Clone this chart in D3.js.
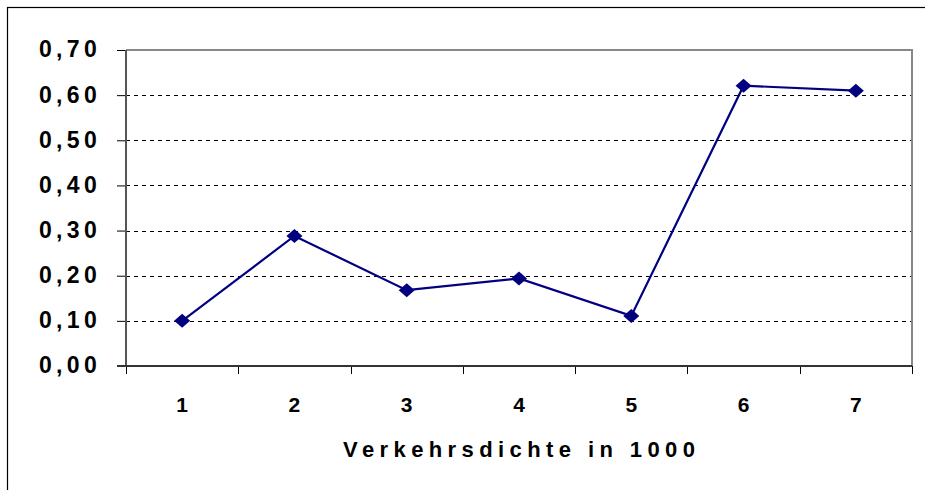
<!DOCTYPE html>
<html>
<head>
<meta charset="utf-8">
<script src="https://cdn.jsdelivr.net/npm/d3@7"></script>
<style>
  body { margin: 0; background: #fff; }
  text { font-family: "Liberation Sans", Arial, sans-serif; font-weight: bold; fill: #000; }
</style>
</head>
<body>
<div id="chart"></div>
<script>
var categories = ["1", "2", "3", "4", "5", "6", "7"];
var values = [0.10, 0.288, 0.168, 0.194, 0.111, 0.621, 0.610];
var yTicks = [0, 0.1, 0.2, 0.3, 0.4, 0.5, 0.6, 0.7];
var xTitle = "Verkehrsdichte in 1000";

var W = 925, H = 490;
var margin = {top: 50, right: 13, bottom: 124, left: 126};
var width = W - margin.left - margin.right;
var height = H - margin.top - margin.bottom;

var svg = d3.select("#chart").append("svg")
    .attr("width", W)
    .attr("height", H);

// outer chart frame (runs off the right and bottom edges)
svg.append("rect")
    .attr("x", 7.5).attr("y", 7.5)
    .attr("width", 930).attr("height", 500)
    .attr("fill", "none")
    .attr("stroke", "#000")
    .attr("stroke-width", 1.2);

var g = svg.append("g")
    .attr("transform", "translate(" + margin.left + "," + margin.top + ")");

var x = d3.scaleBand().domain(categories).range([0, width]);
var y = d3.scaleLinear().domain([0, 0.7]).range([height, 0]);

// dashed gridlines
g.selectAll(".grid")
    .data(yTicks.filter(function(d){ return d > 0 && d < 0.7; }))
    .enter().append("line")
    .attr("class", "grid")
    .attr("x1", 0).attr("x2", width)
    .attr("y1", function(d){ return Math.round(y(d)) + 0.5; })
    .attr("y2", function(d){ return Math.round(y(d)) + 0.5; })
    .attr("stroke", "#000")
    .attr("stroke-dasharray", "4,4");

// plot area border (top/right grey)
g.append("path")
    .attr("d", "M0,0H" + width + "V" + height)
    .attr("fill", "none")
    .attr("stroke", "#888")
    .attr("stroke-width", 2);

// y axis
var yAxis = d3.axisLeft(y)
    .tickValues(yTicks)
    .tickSize(9)
    .tickPadding(16)
    .tickFormat(function(d){ return d3.format(".2f")(d).replace(".", ","); });

var yg = g.append("g").call(yAxis);
yg.select(".domain").remove();
yg.selectAll(".tick line").attr("stroke", "#000");
yg.selectAll(".tick text")
    .attr("font-size", "23px")
    .style("letter-spacing", "4.3px")
    .attr("dy", "0.3em");
g.append("line")
    .attr("x1", 0).attr("x2", 0).attr("y1", 0).attr("y2", height)
    .attr("stroke", "#555").attr("stroke-width", 2);

// x axis
var xg = g.append("g")
    .attr("transform", "translate(0," + height + ")");
xg.selectAll(".xtick")
    .data(d3.range(categories.length + 1))
    .enter().append("line")
    .attr("class", "xtick")
    .attr("x1", function(i){ return Math.round(i * x.step()) + 0.5; })
    .attr("x2", function(i){ return Math.round(i * x.step()) + 0.5; })
    .attr("y1", 0).attr("y2", 8)
    .attr("stroke", "#000");
xg.selectAll(".xlabel")
    .data(categories)
    .enter().append("text")
    .attr("class", "xlabel")
    .attr("x", function(d){ return x(d) + x.bandwidth() / 2; })
    .attr("y", 46)
    .attr("text-anchor", "middle")
    .attr("font-size", "21px")
    .text(function(d){ return d; });
xg.append("line")
    .attr("x1", -9).attr("x2", width).attr("y1", 0).attr("y2", 0)
    .attr("stroke", "#333").attr("stroke-width", 2);

// axis title
g.append("text")
    .attr("x", width / 2 + 2.7)
    .attr("y", height + 91)
    .attr("text-anchor", "middle")
    .attr("font-size", "22px")
    .style("letter-spacing", "5.4px")
    .text(xTitle);

// line
var line = d3.line()
    .x(function(d, i){ return x(categories[i]) + x.bandwidth() / 2; })
    .y(function(d){ return y(d); });

g.append("path")
    .datum(values)
    .attr("d", line)
    .attr("fill", "none")
    .attr("stroke", "#000080")
    .attr("stroke-width", 2.2);

// diamond markers
g.selectAll(".marker")
    .data(values)
    .enter().append("path")
    .attr("class", "marker")
    .attr("transform", function(d, i){
        return "translate(" + (x(categories[i]) + x.bandwidth() / 2) + "," + y(d) + ")";
    })
    .attr("d", "M0,-7L8,0L0,7L-8,0Z")
    .attr("fill", "#000080");
</script>
</body>
</html>
